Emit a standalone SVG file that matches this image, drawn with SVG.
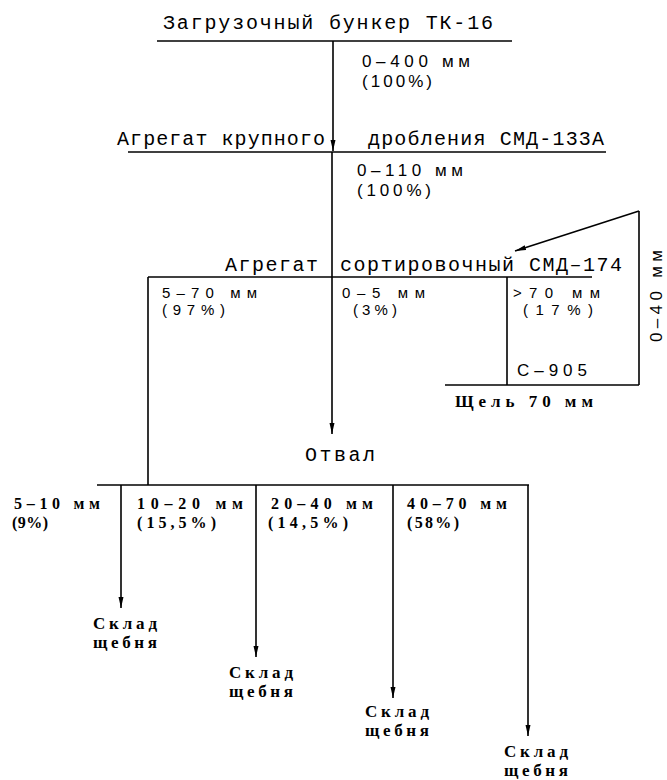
<svg xmlns="http://www.w3.org/2000/svg" width="667" height="780" viewBox="0 0 667 780">
<style>
.ln{stroke:#000;stroke-width:1.6;fill:none}
.ar{stroke:#000;stroke-width:1.6;fill:none;marker-end:url(#ah)}
.m{font-family:"Liberation Mono","DejaVu Sans Mono",monospace;font-size:20px;fill:#000}
.s{font-family:"Liberation Sans","DejaVu Sans",sans-serif;font-size:17px;fill:#000}
.s2{font-family:"Liberation Sans","DejaVu Sans",sans-serif;font-size:15px;fill:#000}
.b{font-family:"Liberation Serif","DejaVu Serif",serif;font-size:16px;font-weight:bold;fill:#000}
.k{font-family:"Liberation Serif","DejaVu Serif",serif;font-size:17px;font-weight:bold;fill:#000}
</style>
<defs>
<marker id="ah" markerUnits="userSpaceOnUse" markerWidth="12" markerHeight="6" refX="11" refY="3" orient="auto">
<path d="M0,0.5 L11,3 L0,5.5 z" fill="#000"/>
</marker>
</defs>
<rect width="667" height="780" fill="#fff"/>
<g id="connectors">
<line class="ln" x1="157" y1="41" x2="512" y2="41"/>
<line class="ar" x1="333" y1="41" x2="333" y2="151"/>
<line class="ln" x1="128" y1="152" x2="606" y2="152"/>
<line class="ar" x1="332" y1="152" x2="332" y2="434"/>
<line class="ln" x1="148" y1="277" x2="592" y2="277"/>
<line class="ln" x1="148" y1="277" x2="148" y2="485"/>
<line class="ln" x1="507" y1="277" x2="507" y2="385"/>
<line class="ln" x1="445" y1="385" x2="639" y2="385"/>
<line class="ln" x1="639" y1="385" x2="639" y2="211"/>
<line class="ar" x1="639" y1="211" x2="515" y2="251"/>
<line class="ln" x1="97" y1="485" x2="529" y2="485"/>
<line class="ar" x1="121" y1="485" x2="121" y2="608"/>
<line class="ar" x1="256" y1="485" x2="256" y2="657"/>
<line class="ar" x1="393" y1="485" x2="393" y2="698"/>
<line class="ar" x1="528" y1="485" x2="528" y2="736"/>
</g>
<g id="bunker">
<text class="m" x="163" y="29" textLength="330" lengthAdjust="spacing">Загрузочный бункер ТК-16</text>
<text class="s" x="362" y="67" textLength="108" lengthAdjust="spacing">0–400 мм</text>
<text class="s" x="362" y="87" textLength="70" lengthAdjust="spacing">(100%)</text>
</g>
<g id="crusher">
<text class="m" x="117" y="145" textLength="208" lengthAdjust="spacing">Агрегат крупного</text>
<text class="m" x="368" y="145" textLength="236" lengthAdjust="spacing">дробления СМД-133А</text>
<text class="s" x="357" y="176" textLength="106" lengthAdjust="spacing">0–110 мм</text>
<text class="s" x="357" y="196" textLength="74" lengthAdjust="spacing">(100%)</text>
</g>
<g id="sorter">
<text class="m" x="225" y="271" textLength="93" lengthAdjust="spacing">Агрегат</text>
<text class="m" x="340" y="271" textLength="282" lengthAdjust="spacing">сортировочный СМД–174</text>
<text class="s2" x="162" y="298" textLength="95" lengthAdjust="spacing">5–70 мм</text>
<text class="s2" x="162" y="315" textLength="63" lengthAdjust="spacing">(97%)</text>
<text class="s2" x="342" y="298" textLength="83" lengthAdjust="spacing">0–5 мм</text>
<text class="s2" x="353" y="315" textLength="44" lengthAdjust="spacing">(3%)</text>
<text class="s2" x="513" y="298" textLength="87" lengthAdjust="spacing">&gt;70 мм</text>
<text class="s2" x="523" y="315" textLength="70" lengthAdjust="spacing">(17%)</text>
</g>
<g id="screen">
<text class="s" x="517" y="376" textLength="70" lengthAdjust="spacing">С–905</text>
<text class="k" x="455" y="407" textLength="138" lengthAdjust="spacing">Щель 70 мм</text>
<text class="s" transform="translate(662,342) rotate(-90)" x="0" y="0" textLength="92" lengthAdjust="spacing">0–40 мм</text>
</g>
<g id="dump">
<text class="m" x="305" y="461" textLength="70" lengthAdjust="spacing">Отвал</text>
</g>
<g id="fractions">
<text class="b" x="14" y="509" textLength="86" lengthAdjust="spacing">5–10 мм</text>
<text class="b" x="12" y="528" textLength="36" lengthAdjust="spacing">(9%)</text>
<text class="b" x="137" y="509" textLength="106" lengthAdjust="spacing">10–20 мм</text>
<text class="b" x="137" y="528" textLength="79" lengthAdjust="spacing">(15,5%)</text>
<text class="b" x="271" y="509" textLength="102" lengthAdjust="spacing">20–40 мм</text>
<text class="b" x="268" y="528" textLength="80" lengthAdjust="spacing">(14,5%)</text>
<text class="b" x="407" y="509" textLength="100" lengthAdjust="spacing">40–70 мм</text>
<text class="b" x="407" y="528" textLength="52" lengthAdjust="spacing">(58%)</text>
</g>
<g id="store1">
<text class="k" x="93" y="629" textLength="64" lengthAdjust="spacing">Склад</text>
<text class="k" x="93" y="648" textLength="64" lengthAdjust="spacing">щебня</text>
</g>
<g id="store2">
<text class="k" x="229" y="678" textLength="64" lengthAdjust="spacing">Склад</text>
<text class="k" x="229" y="697" textLength="64" lengthAdjust="spacing">щебня</text>
</g>
<g id="store3">
<text class="k" x="365" y="717" textLength="64" lengthAdjust="spacing">Склад</text>
<text class="k" x="365" y="736" textLength="64" lengthAdjust="spacing">щебня</text>
</g>
<g id="store4">
<text class="k" x="504" y="757" textLength="64" lengthAdjust="spacing">Склад</text>
<text class="k" x="504" y="776" textLength="64" lengthAdjust="spacing">щебня</text>
</g>
</svg>
